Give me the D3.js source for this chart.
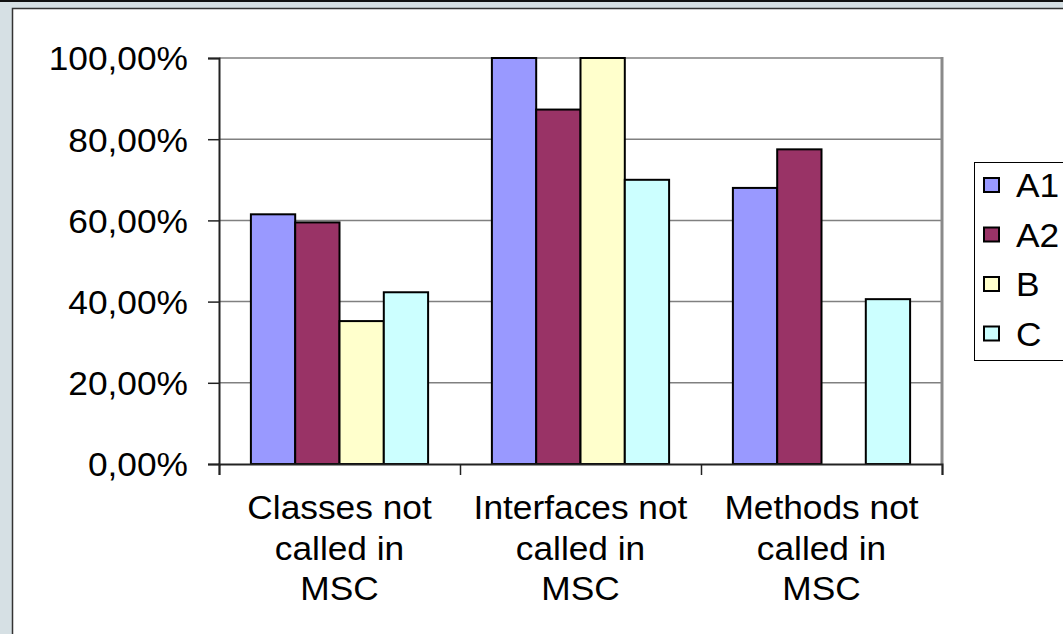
<!DOCTYPE html>
<html>
<head>
<meta charset="utf-8">
<script src="https://cdn.jsdelivr.net/npm/d3@7"></script>
<style>
  html, body { margin: 0; padding: 0; background: #d6e0e4; }
  svg { display: block; }
  text { font-family: "Liberation Sans", Arial, sans-serif; fill: #000; }
</style>
</head>
<body>
<svg id="chart" width="1063" height="634"></svg>
<script>
// Share of elements not called in MSC, per group
const categories = [["Classes not", "called in", "MSC"],
                    ["Interfaces not", "called in", "MSC"],
                    ["Methods not", "called in", "MSC"]];
const seriesNames = ["A1", "A2", "B", "C"];
const seriesColors = ["#9999ff", "#993366", "#ffffcc", "#ccffff"];
const valuesA1 = [61.5, 100, 68.0];
const valuesA2 = [59.5, 87.3, 77.5];
const valuesB  = [35.2, 100, null];
const valuesC  = [42.3, 70.0, 40.6];
const yTicks = [0, 20, 40, 60, 80, 100];

const series = [valuesA1, valuesA2, valuesB, valuesC];

const svg = d3.select("#chart");
const W = 1063, H = 634;

// background strips and white panel
svg.append("rect").attr("x", 0).attr("y", 0).attr("width", W).attr("height", 2).attr("fill", "#111");
svg.append("rect").attr("x", 12.5).attr("y", 8.5).attr("width", W + 10).attr("height", H + 10)
  .attr("fill", "#fff").attr("stroke", "#333").attr("stroke-width", 1.5);

const plot = { left: 219, right: 942, top: 58, bottom: 464 };

const x0 = d3.scaleBand().domain(d3.range(categories.length))
  .range([plot.left, plot.right]).paddingInner(0).paddingOuter(0);
const x1 = d3.scaleBand().domain(d3.range(seriesNames.length))
  .range([0, x0.bandwidth()]).paddingOuter(0.72).paddingInner(0);
const y = d3.scaleLinear().domain([0, 100]).range([plot.bottom, plot.top]);

const fmt = v => d3.format(".2f")(v).replace(".", ",") + "%";
const FS = 33, SX = 1.07;

// gridlines
svg.append("g").selectAll("line").data(yTicks.filter(t => t > 0)).join("line")
  .attr("x1", plot.left).attr("x2", plot.right)
  .attr("y1", d => y(d)).attr("y2", d => y(d))
  .attr("stroke", "#808080").attr("stroke-width", 1.5);

// right border of plot area
svg.append("line").attr("x1", plot.right).attr("x2", plot.right)
  .attr("y1", plot.top - 1).attr("y2", plot.bottom)
  .attr("stroke", "#8a8a8a").attr("stroke-width", 3);

// bars
const groups = svg.append("g").selectAll("g").data(categories).join("g")
  .attr("transform", (d, i) => `translate(${x0(i)},0)`);
groups.each(function (d, ci) {
  d3.select(this).selectAll("rect")
    .data(series.map((s, si) => ({ si, v: s[ci] })).filter(e => e.v != null))
    .join("rect")
    .attr("x", e => x1(e.si))
    .attr("width", x1.bandwidth())
    .attr("y", e => y(e.v))
    .attr("height", e => y(0) - y(e.v))
    .attr("fill", e => seriesColors[e.si])
    .attr("stroke", "#000").attr("stroke-width", 2);
});

// y axis
const yAxis = d3.axisLeft(y).tickValues(yTicks).tickFormat(fmt).tickSize(11).tickPadding(20);
const gy = svg.append("g").attr("transform", `translate(${plot.left},0)`).call(yAxis);
gy.select(".domain").attr("stroke", "#222").attr("stroke-width", 2);
gy.selectAll(".tick line").attr("stroke", "#222").attr("stroke-width", 1.5);
gy.selectAll(".tick text")
  .attr("font-size", FS).attr("font-family", "Liberation Sans, Arial, sans-serif")
  .attr("fill", "#000").attr("dy", "0.36em")
  .each(function () {
    const t = d3.select(this);
    const xx = +t.attr("x");
    t.attr("x", 0).attr("transform", `translate(${xx},0) scale(${SX},1)`);
  });

// x axis
const xAxis = d3.axisBottom(d3.scaleLinear().domain([0, 3]).range([plot.left, plot.right]))
  .tickValues([0, 1, 2, 3]).tickFormat("").tickSize(11);
const gx = svg.append("g").attr("transform", `translate(0,${plot.bottom})`).call(xAxis);
gx.select(".domain").attr("stroke", "#222").attr("stroke-width", 2);
gx.selectAll(".tick line").attr("stroke", "#222").attr("stroke-width", 1.5);

// category labels
categories.forEach((lines, ci) => {
  const cx = x0(ci) + x0.bandwidth() / 2;
  lines.forEach((ln, li) => {
    svg.append("text")
      .attr("transform", `translate(${cx},${519 + li * 40.5}) scale(${SX},1)`)
      .attr("text-anchor", "middle").attr("font-size", FS).text(ln);
  });
});

// legend
const lg = svg.append("g");
lg.append("rect").attr("x", 974.5).attr("y", 162.5).attr("width", 120).attr("height", 198)
  .attr("fill", "#fff").attr("stroke", "#000").attr("stroke-width", 1);
seriesNames.forEach((name, i) => {
  const cy = 185 + i * 49.5;
  lg.append("rect").attr("x", 984).attr("y", cy - 7).attr("width", 15).attr("height", 14)
    .attr("fill", seriesColors[i]).attr("stroke", "#000").attr("stroke-width", 2);
  lg.append("text").attr("transform", `translate(1016,${cy + 12}) scale(${SX},1)`)
    .attr("font-size", FS).text(name);
});
</script>
</body>
</html>
